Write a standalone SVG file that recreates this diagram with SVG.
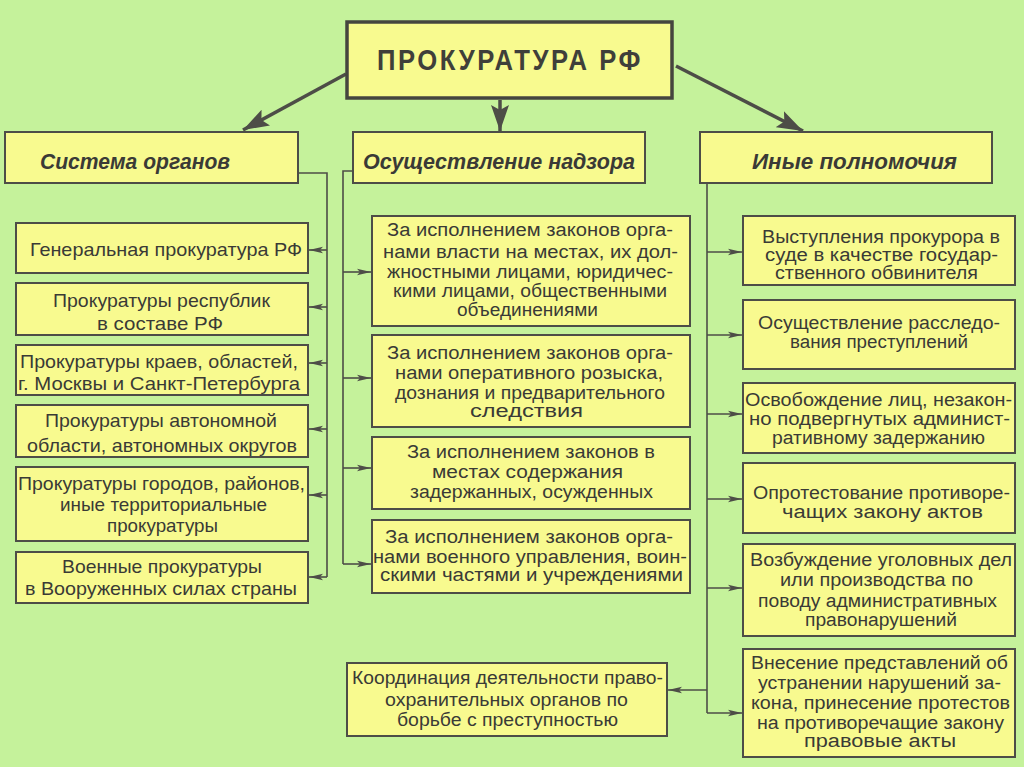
<svg xmlns="http://www.w3.org/2000/svg" width="1024" height="767" viewBox="0 0 1024 767">
<defs>
<style>
.bg{fill:#c5f29b}
.box{fill:#f8fa8f;stroke:#4d4d47;stroke-width:2}
.tbox{fill:#f8fa8f;stroke:#45453f;stroke-width:3.5}
.t{font-family:"Liberation Sans",Arial,sans-serif;font-size:18px;fill:#3a3a36;text-anchor:middle}
.tl{font-size:19px}
.h{font-family:"Liberation Sans",Arial,sans-serif;font-size:22px;font-weight:bold;font-style:italic;fill:#3a3a36;text-anchor:middle}
.title{font-family:"Liberation Sans",Arial,sans-serif;font-size:30px;font-weight:bold;letter-spacing:3px;fill:#3f3f3a;text-anchor:middle}
.ln{fill:none;stroke:#4d4d47;stroke-width:1.6}
.big{fill:none;stroke:#4d4d47;stroke-width:3.5}
</style>
<marker id="a" markerUnits="userSpaceOnUse" markerWidth="14" markerHeight="8" refX="14" refY="4" orient="auto">
<path d="M0,0.8 L14,4 L0,7.2 L3,4 z" fill="#4d4d47"/>
</marker>
<marker id="b" markerUnits="userSpaceOnUse" markerWidth="26" markerHeight="20" refX="26" refY="10" orient="auto">
<path d="M0,1 L26,10 L0,19 L5,10 z" fill="#4d4d47"/>
</marker>
</defs>
<rect class="bg" x="0" y="0" width="1024" height="767"/>

<g id="connectors">
<line class="big" x1="346" y1="74" x2="243" y2="130" marker-end="url(#b)"/>
<line class="big" x1="500" y1="100" x2="500" y2="131" marker-end="url(#b)"/>
<line class="big" x1="676" y1="66" x2="803" y2="131" marker-end="url(#b)"/>
<path class="ln" d="M298,173 H327 V577"/>
<line class="ln" x1="327" y1="250" x2="309" y2="250" marker-end="url(#a)"/>
<line class="ln" x1="327" y1="307" x2="309" y2="307" marker-end="url(#a)"/>
<line class="ln" x1="327" y1="363" x2="309" y2="363" marker-end="url(#a)"/>
<line class="ln" x1="327" y1="429" x2="309" y2="429" marker-end="url(#a)"/>
<line class="ln" x1="327" y1="495" x2="309" y2="495" marker-end="url(#a)"/>
<line class="ln" x1="327" y1="577" x2="309" y2="577" marker-end="url(#a)"/>
<path class="ln" d="M353,171 H343 V564"/>
<line class="ln" x1="343" y1="272" x2="371" y2="272" marker-end="url(#a)"/>
<line class="ln" x1="343" y1="378" x2="371" y2="378" marker-end="url(#a)"/>
<line class="ln" x1="343" y1="468" x2="371" y2="468" marker-end="url(#a)"/>
<line class="ln" x1="343" y1="564" x2="371" y2="564" marker-end="url(#a)"/>
<path class="ln" d="M707,183 V713"/>
<line class="ln" x1="707" y1="252" x2="742" y2="252" marker-end="url(#a)"/>
<line class="ln" x1="707" y1="335" x2="742" y2="335" marker-end="url(#a)"/>
<line class="ln" x1="707" y1="414" x2="742" y2="414" marker-end="url(#a)"/>
<line class="ln" x1="707" y1="499" x2="742" y2="499" marker-end="url(#a)"/>
<line class="ln" x1="707" y1="588" x2="742" y2="588" marker-end="url(#a)"/>
<line class="ln" x1="707" y1="713" x2="742" y2="713" marker-end="url(#a)"/>
<line class="ln" x1="707" y1="690" x2="668" y2="690" marker-end="url(#a)"/>
</g>

<g id="n-root">
<rect class="tbox" x="347" y="22" width="325" height="76"/>
<text class="title" x="510" y="70" textLength="266" lengthAdjust="spacingAndGlyphs">ПРОКУРАТУРА РФ</text>
</g>

<g id="n-system">
<rect class="box" x="5" y="132" width="293" height="51"/>
<text class="h" x="135" y="169" textLength="190" lengthAdjust="spacingAndGlyphs">Система органов</text>
</g>
<g id="n-supervision">
<rect class="box" x="353" y="132" width="292" height="51"/>
<text class="h" x="499" y="169" textLength="272" lengthAdjust="spacingAndGlyphs">Осуществление надзора</text>
</g>
<g id="n-other">
<rect class="box" x="700" y="132" width="292" height="51"/>
<text class="h" x="854.5" y="169" textLength="205" lengthAdjust="spacingAndGlyphs">Иные полномочия</text>
</g>

<g id="n-l1">
<rect class="box" x="16" y="223" width="292" height="50"/>
<text class="t tl" x="166" y="256" textLength="272" lengthAdjust="spacingAndGlyphs">Генеральная прокуратура РФ</text>
</g>
<g id="n-l2">
<rect class="box" x="16" y="283" width="292" height="52"/>
<text class="t tl" x="161.5" y="307" textLength="217" lengthAdjust="spacingAndGlyphs">Прокуратуры республик</text>
<text class="t tl" x="160" y="330" textLength="126" lengthAdjust="spacingAndGlyphs">в составе РФ</text>
</g>
<g id="n-l3">
<rect class="box" x="16" y="345" width="292" height="50"/>
<text class="t tl" x="159" y="368" textLength="278" lengthAdjust="spacingAndGlyphs">Прокуратуры краев, областей,</text>
<text class="t tl" x="159" y="390" textLength="282" lengthAdjust="spacingAndGlyphs">г. Москвы и Санкт-Петербурга</text>
</g>
<g id="n-l4">
<rect class="box" x="16" y="405" width="292" height="52"/>
<text class="t tl" x="161" y="427" textLength="232" lengthAdjust="spacingAndGlyphs">Прокуратуры автономной</text>
<text class="t tl" x="162" y="452" textLength="270" lengthAdjust="spacingAndGlyphs">области, автономных округов</text>
</g>
<g id="n-l5">
<rect class="box" x="16" y="467" width="292" height="74"/>
<text class="t tl" x="161.5" y="490" textLength="287" lengthAdjust="spacingAndGlyphs">Прокуратуры городов, районов,</text>
<text class="t tl" x="163.5" y="511" textLength="207" lengthAdjust="spacingAndGlyphs">иные территориальные</text>
<text class="t tl" x="162.5" y="532" textLength="111" lengthAdjust="spacingAndGlyphs">прокуратуры</text>
</g>
<g id="n-l6">
<rect class="box" x="16" y="552" width="292" height="51"/>
<text class="t tl" x="162" y="573" textLength="200" lengthAdjust="spacingAndGlyphs">Военные прокуратуры</text>
<text class="t tl" x="161" y="595" textLength="272" lengthAdjust="spacingAndGlyphs">в Вооруженных силах страны</text>
</g>

<g id="n-m1">
<rect class="box" x="372" y="216" width="318" height="110"/>
<text class="t" x="530" y="236" textLength="286" lengthAdjust="spacingAndGlyphs">За исполнением законов орга-</text>
<text class="t" x="530.5" y="258" textLength="295" lengthAdjust="spacingAndGlyphs">нами власти на местах, их дол-</text>
<text class="t" x="530" y="278" textLength="286" lengthAdjust="spacingAndGlyphs">жностными лицами, юридичес-</text>
<text class="t" x="530" y="297" textLength="274" lengthAdjust="spacingAndGlyphs">кими лицами, общественными</text>
<text class="t" x="527.5" y="316" textLength="141" lengthAdjust="spacingAndGlyphs">объединениями</text>
</g>
<g id="n-m2">
<rect class="box" x="372" y="335" width="318" height="92"/>
<text class="t" x="530" y="359" textLength="286" lengthAdjust="spacingAndGlyphs">За исполнением законов орга-</text>
<text class="t" x="529" y="379" textLength="268" lengthAdjust="spacingAndGlyphs">нами оперативного розыска,</text>
<text class="t" x="530" y="399" textLength="270" lengthAdjust="spacingAndGlyphs">дознания и предварительного</text>
<text class="t" x="526.5" y="417" textLength="113" lengthAdjust="spacingAndGlyphs">следствия</text>
</g>
<g id="n-m3">
<rect class="box" x="372" y="437" width="318" height="72"/>
<text class="t" x="531" y="458" textLength="248" lengthAdjust="spacingAndGlyphs">За исполнением законов в</text>
<text class="t" x="527.5" y="478" textLength="191" lengthAdjust="spacingAndGlyphs">местах содержания</text>
<text class="t" x="531.5" y="498" textLength="243" lengthAdjust="spacingAndGlyphs">задержанных, осужденных</text>
</g>
<g id="n-m4">
<rect class="box" x="372" y="520" width="318" height="73"/>
<text class="t" x="529" y="543" textLength="288" lengthAdjust="spacingAndGlyphs">За исполнением законов орга-</text>
<text class="t" x="530" y="563" textLength="314" lengthAdjust="spacingAndGlyphs">нами военного управления, воин-</text>
<text class="t" x="531.5" y="581" textLength="303" lengthAdjust="spacingAndGlyphs">скими частями и учреждениями</text>
</g>

<g id="n-coord">
<rect class="box" x="347" y="663" width="320" height="73"/>
<text class="t" x="507.5" y="684" textLength="311" lengthAdjust="spacingAndGlyphs">Координация деятельности право-</text>
<text class="t" x="506.5" y="706" textLength="243" lengthAdjust="spacingAndGlyphs">охранительных органов по</text>
<text class="t" x="507.5" y="726" textLength="221" lengthAdjust="spacingAndGlyphs">борьбе с преступностью</text>
</g>

<g id="n-r1">
<rect class="box" x="743" y="216" width="272" height="69"/>
<text class="t" x="881" y="243" textLength="238" lengthAdjust="spacingAndGlyphs">Выступления прокурора в</text>
<text class="t" x="881.5" y="261" textLength="233" lengthAdjust="spacingAndGlyphs">суде в качестве государ-</text>
<text class="t" x="876.5" y="279" textLength="203" lengthAdjust="spacingAndGlyphs">ственного обвинителя</text>
</g>
<g id="n-r2">
<rect class="box" x="743" y="300" width="272" height="69"/>
<text class="t" x="879" y="329" textLength="242" lengthAdjust="spacingAndGlyphs">Осуществление расследо-</text>
<text class="t" x="879" y="348" textLength="178" lengthAdjust="spacingAndGlyphs">вания преступлений</text>
</g>
<g id="n-r3">
<rect class="box" x="743" y="383" width="272" height="70"/>
<text class="t" x="878.5" y="406" textLength="267" lengthAdjust="spacingAndGlyphs">Освобождение лиц, незакон-</text>
<text class="t" x="879.5" y="425" textLength="261" lengthAdjust="spacingAndGlyphs">но подвергнутых админист-</text>
<text class="t" x="878.5" y="444" textLength="213" lengthAdjust="spacingAndGlyphs">ративному задержанию</text>
</g>
<g id="n-r4">
<rect class="box" x="743" y="463" width="272" height="70"/>
<text class="t" x="881.5" y="499" textLength="257" lengthAdjust="spacingAndGlyphs">Опротестование противоре-</text>
<text class="t" x="882.5" y="518" textLength="201" lengthAdjust="spacingAndGlyphs">чащих закону актов</text>
</g>
<g id="n-r5">
<rect class="box" x="743" y="544" width="272" height="92"/>
<text class="t" x="881" y="566" textLength="262" lengthAdjust="spacingAndGlyphs">Возбуждение уголовных дел</text>
<text class="t" x="876.5" y="586" textLength="193" lengthAdjust="spacingAndGlyphs">или производства по</text>
<text class="t" x="877.5" y="607" textLength="239" lengthAdjust="spacingAndGlyphs">поводу административных</text>
<text class="t" x="881" y="626" textLength="152" lengthAdjust="spacingAndGlyphs">правонарушений</text>
</g>
<g id="n-r6">
<rect class="box" x="743" y="649" width="272" height="108"/>
<text class="t" x="879.5" y="669" textLength="257" lengthAdjust="spacingAndGlyphs">Внесение представлений об</text>
<text class="t" x="879.5" y="689" textLength="243" lengthAdjust="spacingAndGlyphs">устранении нарушений за-</text>
<text class="t" x="880.5" y="709" textLength="259" lengthAdjust="spacingAndGlyphs">кона, принесение протестов</text>
<text class="t" x="880.5" y="729" textLength="247" lengthAdjust="spacingAndGlyphs">на противоречащие закону</text>
<text class="t" x="880" y="747" textLength="152" lengthAdjust="spacingAndGlyphs">правовые акты</text>
</g>
</svg>
